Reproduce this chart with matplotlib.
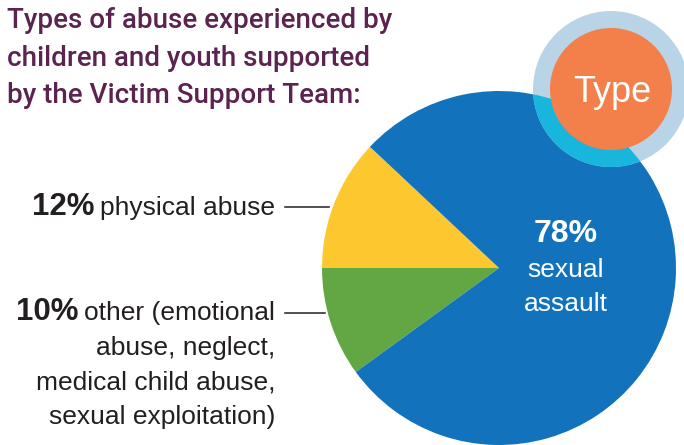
import matplotlib.pyplot as plt
from matplotlib.patches import Circle

# data
labels = ['physical abuse', 'other', 'sexual assault']
shares = [12, 10, 78]
colors = ['#fdc82f', '#62a744', '#1273bc']

title_lines = ['Types of abuse experienced by',
               'children and youth supported',
               'by the Victim Support Team:']
other_lines = ['abuse, neglect,', 'medical child abuse,', 'sexual exploitation)']

W, H = 684, 445
fig = plt.figure(figsize=(W / 100, H / 100), dpi=100)
ax = fig.add_axes([0, 0, 1, 1])

def Y(y):
    # picture rows -> axes y (upwards)
    return H - y

# pie
cx, cy, r = 499, Y(268), 177
wedges, _ = ax.pie(shares, colors=colors, startangle=136.8, counterclock=True,
                   center=(cx, cy), radius=r, frame=True,
                   wedgeprops=dict(linewidth=0))
ax.set_xlim(0, W)
ax.set_ylim(0, H)
ax.set_aspect('equal')
ax.axis('off')

# "Type" badge
bx, by = 611, Y(89)
ax.add_patch(Circle((bx, by), 78, color='#bad4e7', lw=0, zorder=3))
cyan = Circle((bx, by), 78, color='#18b5dc', lw=0, zorder=4)
ax.add_patch(cyan)
cyan.set_clip_path(wedges[2])
ax.add_patch(Circle((bx, by), 61, color='#f3804a', lw=0, zorder=5))
ax.text(bx + 1, Y(102), 'Type', color='white', fontsize=26, ha='center',
        va='baseline', family='Liberation Sans', zorder=6)

# title
for i, line in enumerate(title_lines):
    ax.text(7, Y(28 + 37.5 * i), line, color='#5b2350', fontsize=20,
            family='Roboto', weight='medium', ha='left', va='baseline')

# inside label
ax.text(566, Y(242), '78%', color='white', fontsize=23, weight='bold',
        family='Liberation Sans', ha='center', va='baseline')
ax.text(566, Y(277), 'sexual', color='white', fontsize=19,
        family='Liberation Sans', ha='center', va='baseline')
ax.text(566, Y(311), 'assault', color='white', fontsize=19,
        family='Liberation Sans', ha='center', va='baseline')

# outside labels
txt_col = '#231f20'
rx = 275
fig.canvas.draw()
rend = fig.canvas.get_renderer()

def pct_label(y, pct, rest):
    t = ax.text(rx, Y(y), rest, color=txt_col, fontsize=19,
                family='Liberation Sans', ha='right', va='baseline')
    bb = t.get_window_extent(renderer=rend)
    ax.text(bb.x0 - 6, Y(y), pct, color=txt_col, fontsize=22.5, weight='bold',
            family='Liberation Sans', ha='right', va='baseline')

pct_label(215, '%d%%' % shares[0], labels[0])
pct_label(320, '%d%%' % shares[1], 'other (emotional')
for i, line in enumerate(other_lines):
    ax.text(rx, Y(355 + 34.3 * i), line, color=txt_col, fontsize=19,
            family='Liberation Sans', ha='right', va='baseline')

ax.plot([285, 329], [Y(207), Y(207)], color='#231f20', lw=1.1)
ax.plot([285, 325], [Y(313), Y(313)], color='#231f20', lw=1.1)

fig.savefig('out.png', dpi=100)
